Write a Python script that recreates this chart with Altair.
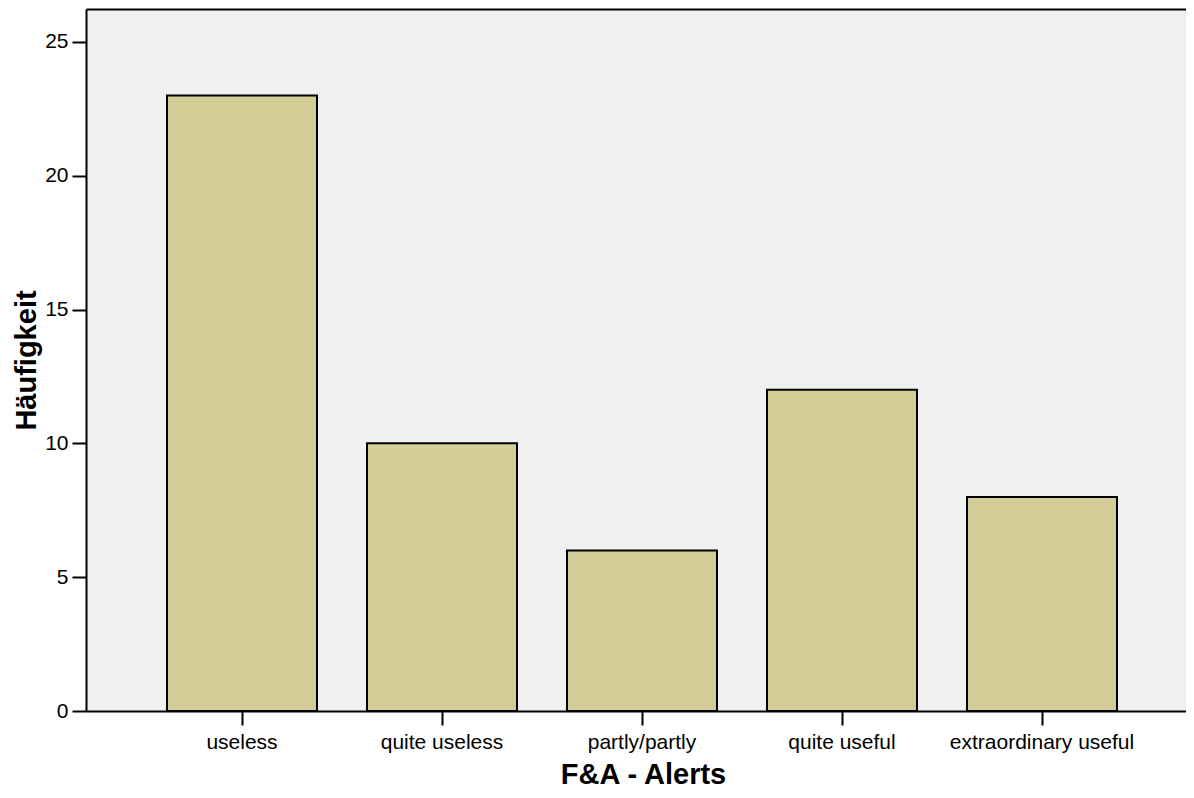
import altair as alt
import pandas as pd

categories = ["useless", "quite useless", "partly/partly", "quite useful", "extraordinary useful"]
counts = [23, 10, 6, 12, 8]
y_ticks = [0, 5, 10, 15, 20, 25]

df = pd.DataFrame({"cat": categories, "count": counts})

FONT = "Liberation Sans"
xscale = alt.Scale(paddingInner=0.25, paddingOuter=0.375, align=0.54)
yscale = alt.Scale(domain=[0, 26.23], nice=False, zero=True)

bars = alt.Chart(df).mark_bar(
    color="#D3CE97", stroke="black", strokeWidth=2
).encode(
    x=alt.X("cat:N", sort=categories, scale=xscale,
            axis=alt.Axis(title="F&A - Alerts", labelAngle=0, labelFont=FONT, labelFontSize=21,
                          labelColor="black", labelPadding=6, labelLimit=0, tickSize=14,
                          tickWidth=2, tickColor="black", domainColor="black", domainWidth=2,
                          titleFont=FONT, titleFontSize=29, titleFontWeight="bold",
                          titleColor="black", titleBaseline="alphabetic", titleY=72,
                          titleX=557)),
    y=alt.Y("count:Q", scale=yscale,
            axis=alt.Axis(title="Häufigkeit", values=y_ticks, grid=False, labelFont=FONT,
                          labelFontSize=21, labelColor="black", labelPadding=4, tickSize=14,
                          tickWidth=2, tickColor="black", domainColor="black", domainWidth=2,
                          titleFont=FONT, titleFontSize=29, titleFontWeight="bold",
                          titleColor="black", titleBaseline="alphabetic", titleX=-51,
                          titleAngle=270)),
)

top = alt.Chart(df).mark_bar(opacity=0).encode(
    x=alt.X("cat:N", sort=categories, scale=xscale,
            axis=alt.Axis(orient="top", labels=False, ticks=False, title=None,
                          domainColor="black", domainWidth=2)),
    y=alt.Y("count:Q", scale=yscale),
)

chart = alt.layer(bars, top).resolve_axis(x="independent").properties(
    width=1100, height=702,
    autosize=alt.AutoSizeParams(type="none"),
    padding={"left": 78, "top": 1, "right": 0, "bottom": 77},
    background="white",
).configure_view(
    fill="#F0F0F0", stroke=None
)

chart.save("out.html", embed_options={"renderer": "svg", "actions": False})
